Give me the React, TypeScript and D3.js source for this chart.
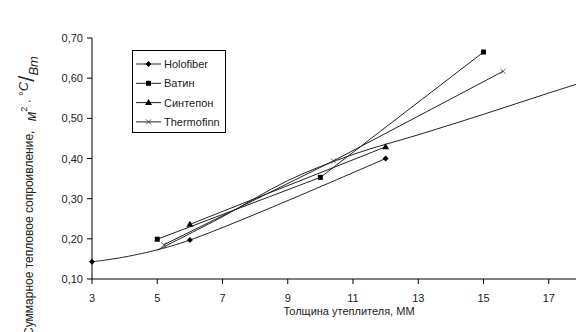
import React from 'react'
import * as d3 from 'd3'

const W = 576
const H = 332

// axis ticks
const xTicks = [3, 5, 7, 9, 11, 13, 15, 17]
const yTicks = [0.1, 0.2, 0.3, 0.4, 0.5, 0.6, 0.7]

// series
const holofiberX = [3, 6, 12]
const holofiberY = [0.143, 0.197, 0.4]
const vatinX = [5, 10, 15]
const vatinY = [0.199, 0.353, 0.665]
const sintX = [6, 12]
const sintY = [0.236, 0.429]
const thermoX = [5.2, 10.4, 15.6]
const thermoY = [0.185, 0.394, 0.617]
// long smooth curve running off the right edge
const trendX = [5, 7, 9, 11, 13, 15, 17, 19]
const trendY = [0.172, 0.255, 0.345, 0.41, 0.459, 0.51, 0.563, 0.614]

const legendNames = ['Holofiber', 'Ватин', 'Синтепон', 'Thermofinn']
const markerKinds = ['diamond', 'square', 'triangle', 'cross']

const font = '"Liberation Sans", Arial, sans-serif'

function Marker({ kind, x, y }: { kind: string; x: number; y: number }) {
  if (kind === 'diamond') {
    return <path d={`M${x},${y - 3}L${x + 3},${y}L${x},${y + 3}L${x - 3},${y}Z`} fill="#000" />
  }
  if (kind === 'square') {
    return <rect x={x - 2.5} y={y - 2.5} width={5} height={5} fill="#000" />
  }
  if (kind === 'triangle') {
    return <path d={`M${x},${y - 3.5}L${x + 3.5},${y + 2.5}L${x - 3.5},${y + 2.5}Z`} fill="#000" />
  }
  return (
    <path
      d={`M${x - 2.5},${y - 2.5}L${x + 2.5},${y + 2.5}M${x - 2.5},${y + 2.5}L${x + 2.5},${y - 2.5}`}
      stroke="#333"
      strokeWidth={0.8}
    />
  )
}

export default function App() {
  const x = d3.scaleLinear().domain([3, 19]).range([92, 614])
  const y = d3.scaleLinear().domain([0.1, 0.7]).range([279, 38])

  const smooth = d3
    .line<[number, number]>()
    .x((d) => x(d[0]))
    .y((d) => y(d[1]))
    .curve(d3.curveCatmullRom.alpha(0))
  const straight = d3
    .line<[number, number]>()
    .x((d) => x(d[0]))
    .y((d) => y(d[1]))

  const zip = (a: number[], b: number[]) => a.map((v, i) => [v, b[i]] as [number, number])

  const series = [
    zip(holofiberX, holofiberY),
    zip(vatinX, vatinY),
    zip(sintX, sintY),
    zip(thermoX, thermoY),
  ]
  const lineFor = [smooth, straight, straight, straight]
  const trend = zip(trendX, trendY)

  return (
    <svg
      width={W}
      height={H}
      style={{ position: 'absolute', left: 0, top: 0, background: '#fff' }}
      fontFamily={font}
    >
      {/* axes */}
      <line x1={x(3)} x2={W} y1={y(0.1)} y2={y(0.1)} stroke="#000" />
      <line x1={x(3)} x2={x(3)} y1={y(0.1)} y2={y(0.7)} stroke="#000" />
      {yTicks.map((t) => (
        <g key={t}>
          <line x1={x(3) - 5} x2={x(3)} y1={y(t)} y2={y(t)} stroke="#000" />
          <text x={83} y={y(t) + 4} textAnchor="end" fontSize={11} fill="#222">
            {t.toFixed(2).replace('.', ',')}
          </text>
        </g>
      ))}
      {xTicks.map((t) => (
        <g key={t}>
          <line x1={x(t)} x2={x(t)} y1={y(0.1)} y2={y(0.1) + 5} stroke="#000" />
          <text x={x(t)} y={302} textAnchor="middle" fontSize={11} fill="#222">
            {t}
          </text>
        </g>
      ))}
      <text x={349} y={315} textAnchor="middle" fontSize={11} fill="#222">
        Толщина утеплителя, ММ
      </text>
      <text transform="translate(33,336) rotate(-90)" fontSize={12} fill="#222">
        <tspan>Суммарное тепловое сопроивление, </tspan>
        <tspan fontStyle="italic" fontSize={14} dy={3} dx={6}>м</tspan>
        <tspan fontSize={9} dy={-9}>2</tspan>
        <tspan fontSize={12} dy={6}> · </tspan>
        <tspan fontSize={12} dy={-5}>°</tspan>
        <tspan fontStyle="italic" fontSize={13} dy={0}>C</tspan>
        <tspan fontSize={22} dy={6}>/</tspan>
        <tspan fontStyle="italic" fontSize={13} dy={4}>Вт</tspan>
      </text>

      {/* lines */}
      <path d={smooth(trend) ?? ''} fill="none" stroke="#222" strokeWidth={1} />
      {series.map((s, i) => (
        <g key={i}>
          <path d={lineFor[i](s) ?? ''} fill="none" stroke="#222" strokeWidth={1} />
          {s.map((p, j) => (
            <Marker key={j} kind={markerKinds[i]} x={x(p[0])} y={y(p[1])} />
          ))}
        </g>
      ))}

      {/* legend */}
      <rect x={132.5} y={50.5} width={93} height={82} fill="#fff" stroke="#000" />
      {legendNames.map((n, i) => {
        const ly = 64 + i * 19.3
        return (
          <g key={n}>
            <line x1={136} x2={161} y1={ly} y2={ly} stroke="#222" />
            <Marker kind={markerKinds[i]} x={148.5} y={ly} />
            <text x={164} y={ly + 4} fontSize={11} fill="#222">
              {n}
            </text>
          </g>
        )
      })}
    </svg>
  )
}
